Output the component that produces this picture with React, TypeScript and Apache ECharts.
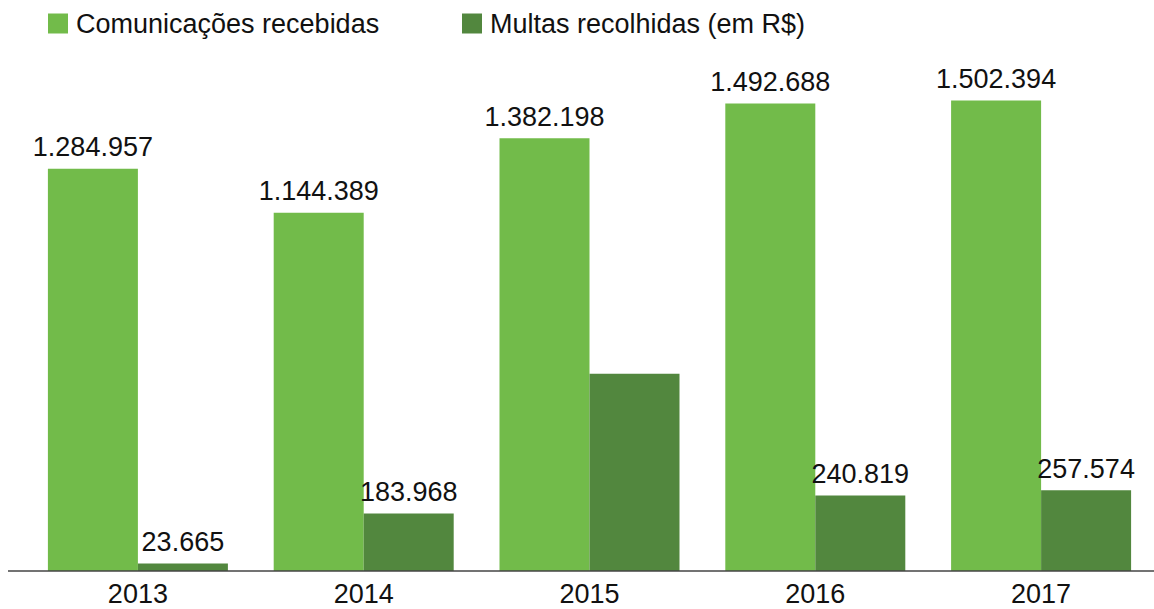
import React, { useEffect, useRef } from "react";
import * as echarts from "echarts";

const categories = ["2013", "2014", "2015", "2016", "2017"];
const comunicacoes = [1284957, 1144389, 1382198, 1492688, 1502394];
const multas = [23665, 183968, 630000, 240819, 257574];
const multasLabelShown = [true, true, false, true, true];

const LIGHT = "#72bb4a";
const DARK = "#52873e";
const FONT = "Liberation Sans";

const fmt = (v: number) => v.toLocaleString("de-DE");

export default function App() {
  const ref = useRef<HTMLDivElement>(null);
  useEffect(() => {
    document.body.style.margin = "0";
    const chart = echarts.init(ref.current!, null, { renderer: "svg" });
    const labelStyle = {
      show: true,
      position: "top" as const,
      distance: 8,
      fontSize: 27,
      fontFamily: FONT,
      color: "#111",
      formatter: (p: any) => fmt(p.value),
    };
    const legendText = { fontSize: 27, fontFamily: FONT, color: "#111", padding: [0, 0, 0, 3] };
    chart.setOption({
      animation: false,
      textStyle: { fontFamily: FONT },
      legend: [
        {
          data: ["Comunicações recebidas"],
          left: 48,
          top: 10,
          padding: 0,
          itemWidth: 20,
          itemHeight: 20,
          icon: "rect",
          textStyle: legendText,
        },
        {
          data: ["Multas recolhidas (em R$)"],
          left: 462,
          top: 10,
          padding: 0,
          itemWidth: 20,
          itemHeight: 20,
          icon: "rect",
          textStyle: legendText,
        },
      ],
      grid: { left: 25, right: 0, top: 70, bottom: 38 },
      xAxis: {
        type: "category",
        data: categories,
        axisLine: { show: false },
        axisTick: { show: false },
        axisLabel: { fontSize: 27, fontFamily: FONT, color: "#111", margin: 9 },
      },
      yAxis: {
        type: "value",
        min: 0,
        max: 1600000,
        show: false,
        splitLine: { show: false },
      },
      graphic: [
        {
          type: "line",
          shape: { x1: 8, y1: 571, x2: 1154, y2: 571 },
          style: { stroke: "#444", lineWidth: 1.5 },
          z: 10,
        },
      ],
      series: [
        {
          name: "Comunicações recebidas",
          type: "bar",
          data: comunicacoes,
          barWidth: 90,
          barGap: "0%",
          itemStyle: { color: LIGHT },
          label: labelStyle,
        },
        {
          name: "Multas recolhidas (em R$)",
          type: "bar",
          data: multas.map((v, i) => ({
            value: v,
            label: { show: multasLabelShown[i] },
          })),
          barWidth: 90,
          barGap: "0%",
          itemStyle: { color: DARK },
          label: labelStyle,
        },
      ],
    });
    return () => chart.dispose();
  }, []);
  return <div ref={ref} style={{ width: 1154, height: 609 }} />;
}
